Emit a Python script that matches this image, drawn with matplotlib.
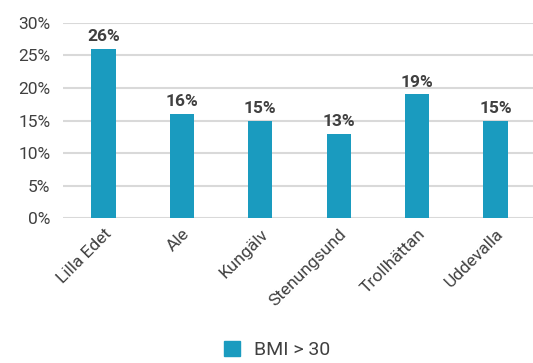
import matplotlib.pyplot as plt
from matplotlib.ticker import PercentFormatter
from matplotlib.patches import Patch

plt.rcParams['font.family'] = ['Roboto', 'DejaVu Sans']

kommuner = ['Lilla Edet', 'Ale', 'Kungälv', 'Stenungsund', 'Trollhättan', 'Uddevalla']
bmi_over_30 = [26, 16, 15, 13, 19, 15]
yticks = [0, 5, 10, 15, 20, 25, 30]

BAR = '#1a9bbf'
TEXT = '#404040'

fig = plt.figure(figsize=(5.33, 3.63), dpi=100)
ax = fig.add_axes([0.118, 0.399, 0.882, 0.538])

x = range(len(kommuner))
bars = ax.bar(x, bmi_over_30, width=0.31, color=BAR, zorder=3)

# value labels above each bar
for b, v in zip(bars, bmi_over_30):
    ax.text(b.get_x() + b.get_width() / 2, v + 0.7, f'{v}%', ha='center', va='bottom',
            fontsize=12.5, fontweight='bold', color=TEXT)

ax.set_xlim(-0.52, 5.48)
ax.set_ylim(0, 30)
ax.set_yticks(yticks)
ax.yaxis.set_major_formatter(PercentFormatter(decimals=0))
ax.grid(axis='y', color='#d9d9d9', linewidth=1.5, zorder=0)
ax.set_xticks(list(x))
ax.set_xticklabels(kommuner, rotation=45, ha='right', rotation_mode='anchor')
ax.tick_params(axis='both', length=0, labelsize=12.5, colors=TEXT)
ax.tick_params(axis='y', pad=9)
ax.tick_params(axis='x', pad=6)
for s in ax.spines.values():
    s.set_visible(False)

fig.legend(handles=[Patch(color=BAR, label='BMI > 30')], loc='center',
           bbox_to_anchor=(0.52, 0.035), frameon=False, fontsize=14,
           handlelength=0.8, handleheight=0.8, handletextpad=0.7, labelcolor=TEXT)

fig.savefig('out.png', dpi=100)
